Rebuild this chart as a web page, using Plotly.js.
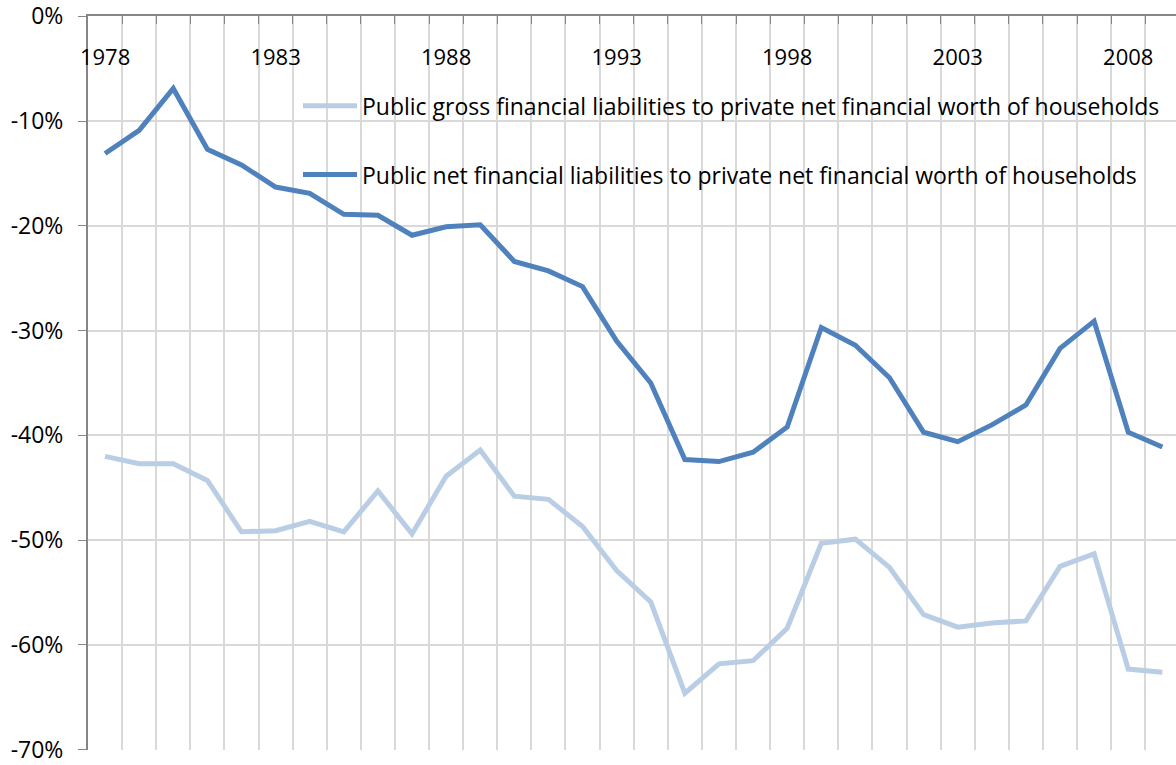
<!DOCTYPE html>
<html>
<head>
<meta charset="utf-8">
<script src="https://cdn.plot.ly/plotly-3.0.1.min.js"></script>
<style>html,body{margin:0;padding:0;background:#fff;}#chart{width:1176px;height:765px;}</style>
</head>
<body>
<div id="chart"></div>
<script>
var years = [1978,1979,1980,1981,1982,1983,1984,1985,1986,1987,1988,1989,1990,1991,1992,1993,1994,1995,1996,1997,1998,1999,2000,2001,2002,2003,2004,2005,2006,2007,2008,2009];
var grossLiabilities = [-42.0,-42.7,-42.7,-44.3,-49.2,-49.1,-48.2,-49.2,-45.3,-49.4,-43.9,-41.4,-45.8,-46.1,-48.7,-52.9,-55.9,-64.6,-61.8,-61.5,-58.4,-50.3,-49.9,-52.6,-57.1,-58.3,-57.9,-57.7,-52.5,-51.3,-62.3,-62.6];
var netLiabilities = [-13.1,-10.9,-6.9,-12.7,-14.2,-16.3,-16.9,-18.9,-19.0,-20.9,-20.1,-19.9,-23.4,-24.3,-25.8,-31.0,-35.0,-42.3,-42.5,-41.6,-39.2,-29.7,-31.4,-34.5,-39.7,-40.6,-39.0,-37.1,-31.7,-29.1,-39.7,-41.1];
var seriesNames = ["Public gross financial liabilities to private net financial worth of households",
                   "Public net financial liabilities to private net financial worth of households"];
var yearLabels = [1978,1983,1988,1993,1998,2003,2008];
var yTickValues = [0,-10,-20,-30,-40,-50,-60,-70];
var yTickLabels = ["0%","-10%","-20%","-30%","-40%","-50%","-60%","-70%"];

var FONT = "'Open Sans', sans-serif";
function pct(a){ return a.map(function(v){ return v/100; }); }
var gridVals = years.map(function(y){ return y - 0.5; });

var traces = [
  {x: years, y: pct(grossLiabilities), name: seriesNames[0], type: "scatter", mode: "lines",
   line: {color: "#B9CDE5", width: 5}, legendgroup: "g1"},
  {x: years, y: pct(netLiabilities), name: seriesNames[1], type: "scatter", mode: "lines",
   line: {color: "#4F81BD", width: 5}, legendgroup: "g2"},
  {x: yearLabels, y: yearLabels.map(function(){return null;}), xaxis: "x2", showlegend: false, hoverinfo: "skip", type: "scatter", mode: "lines"}
];

var layout = {
  width: 1176, height: 765,
  margin: {l: 88, r: 0, t: 16, b: 15},
  paper_bgcolor: "#fff", plot_bgcolor: "#fff",
  font: {family: FONT, size: 22, color: "#000"},
  showlegend: true,
  legend: {x: 0.193, y: 0.907, xanchor: "left", yanchor: "top", bgcolor: "rgba(0,0,0,0)",
           font: {family: FONT, size: 23, color: "#000"}, tracegroupgap: 36, itemwidth: 54},
  xaxis: {range: [1977.5, 2009.4], side: "top", showline: true, linecolor: "#868686", linewidth: 2,
          tickmode: "array", tickvals: gridVals, showticklabels: false,
          ticks: "inside", ticklen: 8, tickcolor: "#868686", tickwidth: 1,
          showgrid: true, gridcolor: "#D9D9D9", gridwidth: 2, zeroline: false, fixedrange: true},
  xaxis2: {overlaying: "x", matches: "x", side: "top", anchor: "free", position: 0.927,
           tickmode: "array", tickvals: yearLabels, ticktext: yearLabels.map(String),
           showline: false, showgrid: false, ticks: "", zeroline: false,
           tickfont: {family: FONT, size: 22, color: "#000"}},
  yaxis: {range: [-0.7002, 0.0002], tickmode: "array", tickvals: pct(yTickValues), ticktext: yTickLabels,
          ticklabeloverflow: "allow", showline: true, linecolor: "#868686", linewidth: 2,
          ticks: "outside", ticklen: 8, tickcolor: "#868686", ticklabelstandoff: 10,
          showgrid: true, gridcolor: "#D9D9D9", gridwidth: 2, zeroline: false,
          tickfont: {family: FONT, size: 23, color: "#000"}}
};

Plotly.newPlot("chart", traces, layout, {displayModeBar: false, staticPlot: true});
</script>
</body>
</html>
